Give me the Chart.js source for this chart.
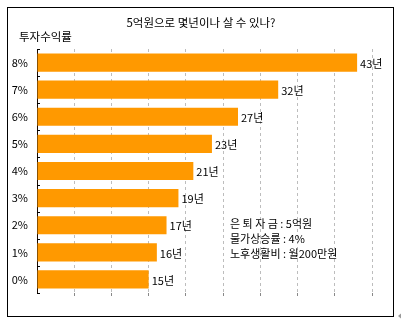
<!DOCTYPE html>
<html><head><meta charset="utf-8">
<script src="https://cdn.jsdelivr.net/npm/chart.js@4.4.0/dist/chart.umd.min.js"></script>
<style>html,body{margin:0;padding:0;background:#fff;}canvas{display:block;}</style>
</head><body>
<canvas id="c" width="402" height="324"></canvas>
<script>
const categories = ['8%','7%','6%','5%','4%','3%','2%','1%','0%'];
const barValues = [43, 32.4, 27, 23.5, 21, 19, 17.4, 16.1, 15];
const yearLabels = ['43년','32년','27년','23년','21년','19년','17년','16년','15년'];
const chartTitle = '5억원으로 몇년이나 살 수 있나?';
const axisTitle = '투자수익률';
const notes = ['은 퇴 자 금 : 5억원','물가상승률 : 4%','노후생활비 : 월200만원'];
const xTicks = [0,5,10,15,20,25,30,35,40,45];

const FONT = '"Noto Sans CJK KR", "Noto Sans", sans-serif';

const deco = {
  id:'deco',
  beforeDraw(chart){
    const ctx = chart.ctx;
    ctx.save();
    ctx.fillStyle = '#fff';
    ctx.fillRect(0,0,chart.width,chart.height);
    ctx.restore();
  },
  afterDraw(chart){
    const ctx = chart.ctx;
    const ca = chart.chartArea;
    const ys = chart.scales.y;
    ctx.save();
    ctx.strokeStyle = '#000'; ctx.lineWidth = 1;
    ctx.strokeRect(7.5, 7.5, 386, 309);
    ctx.fillStyle = '#999';
    ctx.beginPath(); ctx.moveTo(398,316); ctx.lineTo(401,313.5); ctx.lineTo(401,318.5); ctx.closePath(); ctx.fill();
    ctx.fillStyle = '#000';
    ctx.textBaseline = 'middle';
    ctx.textAlign = 'center';
    ctx.font = '11.5px ' + FONT;
    ctx.fillText(chartTitle, 201, 23);
    ctx.textAlign = 'left';
    ctx.fillText(axisTitle, 19, 37);
    ctx.font = '11px ' + FONT;
    const meta = chart.getDatasetMeta(0);
    meta.data.forEach((bar, i) => {
      ctx.fillText(yearLabels[i], bar.x + 3, bar.y + 1);
    });
    notes.forEach((t, i) => ctx.fillText(t, 230, 224 + i * 15));
    ctx.strokeStyle = '#000';
    ctx.beginPath();
    const n = categories.length;
    for (let i = 0; i <= n; i++) {
      const y = Math.round(ys.getPixelForValue(i - 0.5)) + 0.5;
      ctx.moveTo(ca.left, y); ctx.lineTo(ca.left + 3, y);
    }
    ctx.stroke();
    ctx.restore();
  }
};

new Chart(document.getElementById('c'), {
  type: 'bar',
  data: {
    labels: categories,
    datasets: [{
      data: barValues,
      backgroundColor: '#FF9900',
      borderWidth: 0,
      barPercentage: 0.67,
      categoryPercentage: 1.0
    }]
  },
  options: {
    indexAxis: 'y',
    responsive: false,
    animation: false,
    devicePixelRatio: 1,
    layout: { padding: { top: 49, right: 30, bottom: 28, left: 0 } },
    plugins: { legend: { display: false }, tooltip: { enabled: false }, title: { display: false } },
    scales: {
      x: {
        min: 0, max: 45,
        afterBuildTicks(s){ s.ticks = xTicks.map(v => ({value: v})); },
        afterFit(s){ s.height = 3; },
        ticks: { display: false },
        border: { display: false, dash: [3, 3] },
        grid: {
          color: (c) => c.tick && c.tick.value === 0 ? 'rgba(0,0,0,0)' : '#bdbdbd',
          tickLength: 3,
          tickColor: (c) => c.tick && c.tick.value === 0 ? 'rgba(0,0,0,0)' : '#888',
          tickBorderDash: [0, 0]
        }
      },
      y: {
        afterFit(s){ s.width = 37; },
        border: { display: true, color: '#1a0a00', width: 1 },
        grid: { display: false },
        ticks: { color: '#000', font: { family: FONT, size: 11 }, padding: 1 }
      }
    }
  },
  plugins: [deco]
});
</script>
</body></html>
